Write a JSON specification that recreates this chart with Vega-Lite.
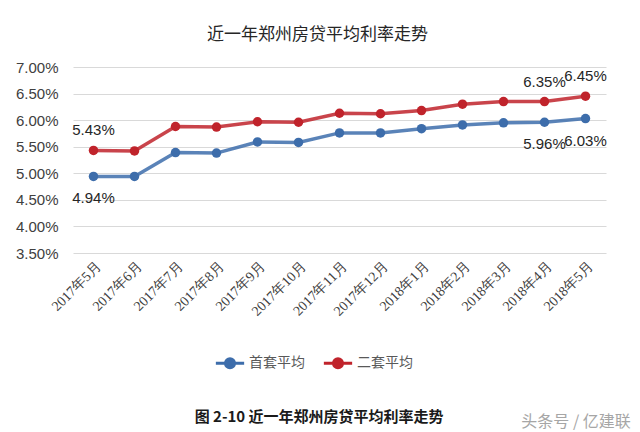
{
  "$schema": "https://vega.github.io/schema/vega-lite/v6.json",
  "padding": {"left": 15, "top": 26, "right": 10, "bottom": 5},
  "background": "white",
  "title": {"text": "图 2-10 近一年郑州房贷平均利率走势", "orient": "bottom", "anchor": "middle", "fontSize": 15, "font": "Noto Sans CJK SC", "fontWeight": "bold", "color": "#1a1a1a", "offset": -20, "dx": -4},
  "resolve": {"legend": {"color": "independent"}},
  "vconcat": [
    {
      "title": {"text": "头条号 / 亿建联", "orient": "bottom", "anchor": "end", "fontSize": 16, "font": "Noto Sans CJK SC", "fontWeight": "normal", "color": "#a6a6a6", "offset": 40, "dx": 24},
      "resolve": {"legend": {"color": "independent"}},
      "vconcat": [
        {
          "width": 533,
          "height": 186,
          "title": {"text": "近一年郑州房贷平均利率走势", "anchor": "middle", "fontSize": 17, "font": "Noto Sans CJK SC", "fontWeight": "normal", "color": "#262626", "offset": 16, "dx": -22},
          "data": {"values": [
            {"month": "2017年5月", "series": "首套平均", "rate": 0.0494},
            {"month": "2017年6月", "series": "首套平均", "rate": 0.0494},
            {"month": "2017年7月", "series": "首套平均", "rate": 0.0539},
            {"month": "2017年8月", "series": "首套平均", "rate": 0.0538},
            {"month": "2017年9月", "series": "首套平均", "rate": 0.0559},
            {"month": "2017年10月", "series": "首套平均", "rate": 0.0558},
            {"month": "2017年11月", "series": "首套平均", "rate": 0.0576},
            {"month": "2017年12月", "series": "首套平均", "rate": 0.0576},
            {"month": "2018年1月", "series": "首套平均", "rate": 0.0584},
            {"month": "2018年2月", "series": "首套平均", "rate": 0.0591},
            {"month": "2018年3月", "series": "首套平均", "rate": 0.0595},
            {"month": "2018年4月", "series": "首套平均", "rate": 0.0596},
            {"month": "2018年5月", "series": "首套平均", "rate": 0.0603},
            {"month": "2017年5月", "series": "二套平均", "rate": 0.0543},
            {"month": "2017年6月", "series": "二套平均", "rate": 0.0542},
            {"month": "2017年7月", "series": "二套平均", "rate": 0.0588},
            {"month": "2017年8月", "series": "二套平均", "rate": 0.0587},
            {"month": "2017年9月", "series": "二套平均", "rate": 0.0597},
            {"month": "2017年10月", "series": "二套平均", "rate": 0.0596},
            {"month": "2017年11月", "series": "二套平均", "rate": 0.0613},
            {"month": "2017年12月", "series": "二套平均", "rate": 0.0612},
            {"month": "2018年1月", "series": "二套平均", "rate": 0.0618},
            {"month": "2018年2月", "series": "二套平均", "rate": 0.0630},
            {"month": "2018年3月", "series": "二套平均", "rate": 0.0635},
            {"month": "2018年4月", "series": "二套平均", "rate": 0.0635},
            {"month": "2018年5月", "series": "二套平均", "rate": 0.0645}
          ]},
          "encoding": {
            "x": {"field": "month", "type": "ordinal", "sort": null,
                  "scale": {"type": "point", "padding": 0.5},
                  "axis": {"title": null, "labelAngle": -45, "labelFontSize": 14, "labelFont": "Liberation Serif", "labelColor": "#404040", "ticks": false, "domain": false, "grid": false, "labelPadding": 6}},
            "y": {"field": "rate", "type": "quantitative",
                  "scale": {"domain": [0.035, 0.07], "nice": false, "zero": false},
                  "axis": {"title": null, "format": ".2%", "values": [0.035, 0.04, 0.045, 0.05, 0.055, 0.06, 0.065, 0.07], "labelFontSize": 15, "labelFont": "Liberation Sans", "labelColor": "#404040", "ticks": false, "domain": false, "gridColor": "#d9d9d9", "labelPadding": 15}},
            "color": {"field": "series", "type": "nominal",
                      "scale": {"domain": ["首套平均", "二套平均"], "range": ["#3d6dab", "#c0232b"]},
                      "legend": {"title": null, "orient": "none", "legendX": 141, "legendY": 280, "direction": "horizontal", "labelFontSize": 14, "labelFont": "Noto Sans CJK SC", "labelColor": "#595959", "symbolType": "M-1,0L1,0M-0.32,0A0.32,0.32,0,1,0,0.32,0A0.32,0.32,0,1,0,-0.32,0Z", "symbolSize": 800, "symbolStrokeWidth": 3, "columnPadding": 12, "labelOffset": 3,
                                 "encode": {"symbols": {"update": {"fill": {"scale": "color", "field": "value"}, "fillOpacity": {"value": 1}}}}}}
          },
          "layer": [
            {"mark": {"type": "line", "strokeWidth": 3.5, "strokeOpacity": 0.85}},
            {"mark": {"type": "point", "filled": true, "size": 90, "opacity": 1}},
            {"transform": [{"filter": "datum.series === '二套平均' && (datum.month === '2017年5月' || datum.month === '2018年4月' || datum.month === '2018年5月')"}],
             "mark": {"type": "text", "dy": -20, "fontSize": 15, "font": "Liberation Sans", "color": "#262626"},
             "encoding": {"text": {"field": "rate", "format": ".2%"}, "color": {"value": "#262626"}}},
            {"transform": [{"filter": "datum.series === '首套平均' && (datum.month === '2017年5月' || datum.month === '2018年4月' || datum.month === '2018年5月')"}],
             "mark": {"type": "text", "dy": 22, "fontSize": 15, "font": "Liberation Sans", "color": "#262626"},
             "encoding": {"text": {"field": "rate", "format": ".2%"}, "color": {"value": "#262626"}}}
          ]
        }
      ]
    }
  ],
  "config": {"view": {"stroke": null}}
}
